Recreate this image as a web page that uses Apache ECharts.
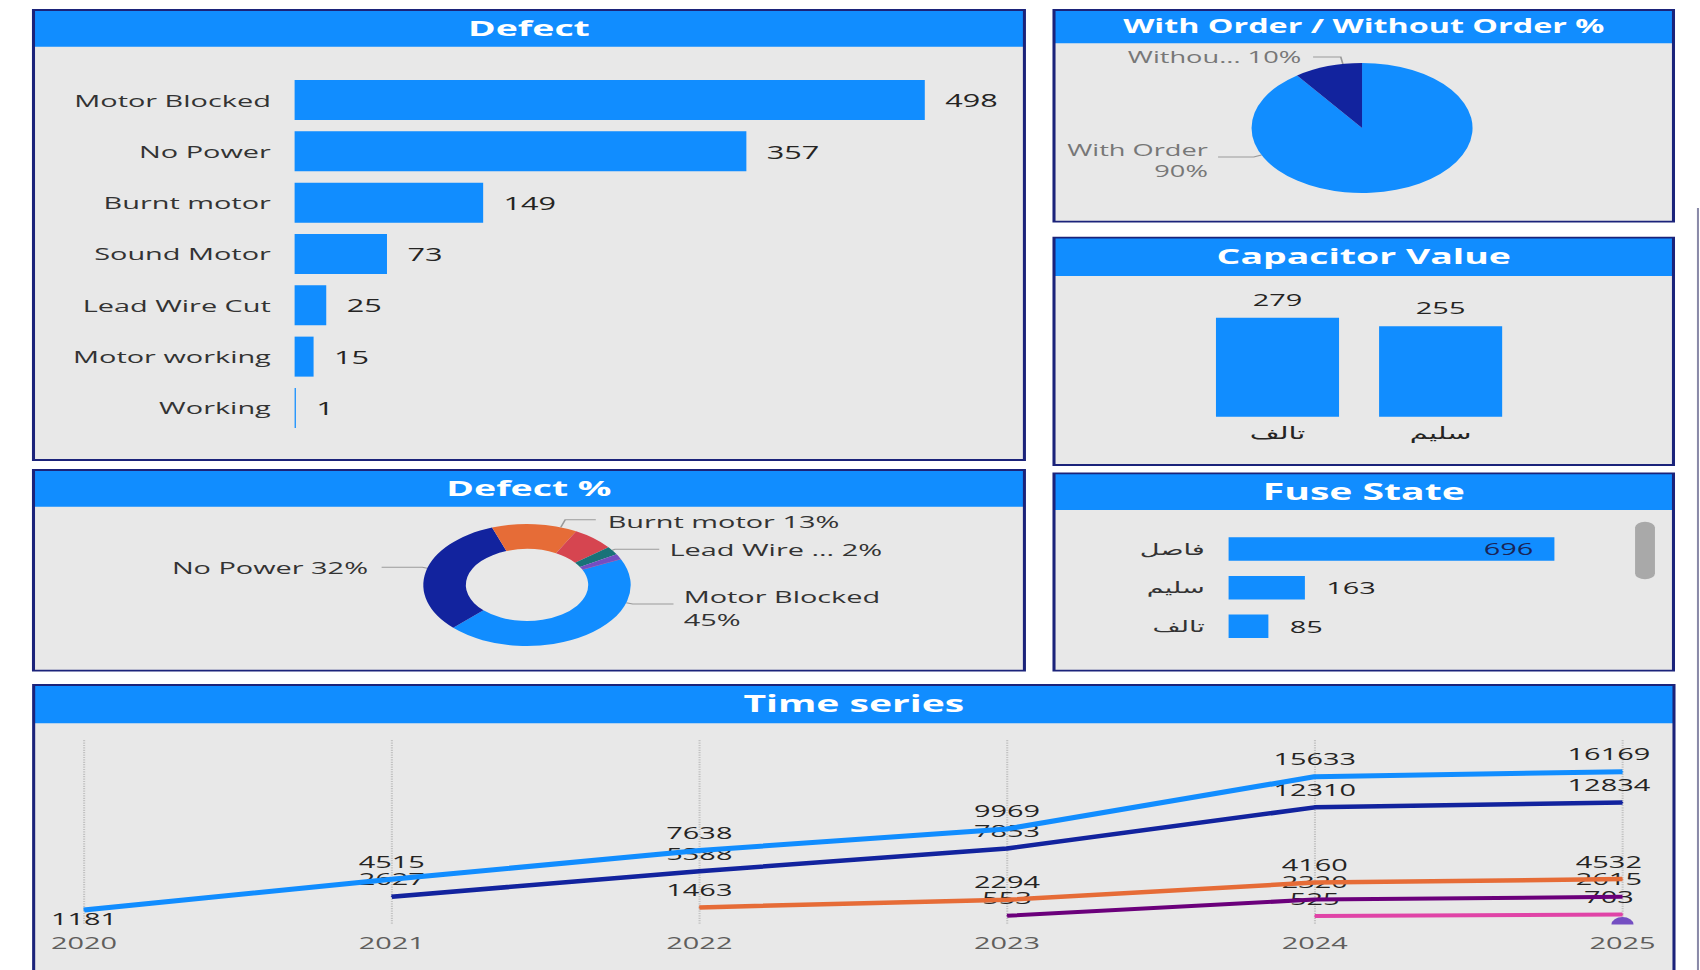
<!DOCTYPE html>
<html>
<head>
<meta charset="utf-8">
<script src="https://cdn.jsdelivr.net/npm/echarts@6/dist/echarts.min.js"></script>
<style>
  html, body { margin: 0; padding: 0; background: #ffffff; overflow: hidden; }
  #main { width: 1000px; height: 970px; transform: scaleX(1.7); transform-origin: 0 0; }
</style>
</head>
<body>
<div id="main"></div>
<script>
// ---------------- data ----------------
const defectCategories = ['Motor Blocked', 'No Power', 'Burnt motor', 'Sound Motor', 'Lead Wire Cut', 'Motor working', 'Working'];
const defectValues = [498, 357, 149, 73, 25, 15, 1];
const defectPieLabels = ['Motor Blocked', 'No Power', 'Burnt motor', '', 'Lead Wire ...', '', ''];

const orderCategories = ['With Order', 'Without Order'];
const orderValues = [90, 10];
const orderPieLabels = ['With Order', 'Withou...'];

const capacitorCategories = ['تالف', 'سليم'];
const capacitorValues = [279, 255];

const fuseCategories = ['فاصل', 'سليم', 'تالف'];
const fuseValues = [696, 163, 85];

const years = ['2020', '2021', '2022', '2023', '2024', '2025'];
const seriesLightBlue = [1181, 4515, 7638, 9969, 15633, 16169];
const seriesNavy = [null, 2627, 5388, 7853, 12310, 12834];
const seriesOrange = [null, null, 1463, 2294, 4160, 4532];
const seriesPurple = [null, null, null, 553, 2320, 2615];
const seriesPink = [null, null, null, null, 525, 703];
const seriesViolet = [null, null, null, null, null, 10];

// ---------------- styling / layout ----------------
const BLUE = '#118DFF';
const NAVY_BORDER = '#1b237a';
const PANEL_BG = '#e8e8e8';
const FONT = '"Open Sans", "Noto Sans", sans-serif';
const AR_FONT = '"DejaVu Sans", "Noto Sans", sans-serif';

const panels = [
  { x: 19.7, y: 10, w: 582.9, h: 450, hh: 36.7, title: 'Defect', fs: 22 },
  { x: 620, y: 10, w: 364.4, h: 211.7, hh: 33.3, title: 'With Order / Without Order %', fs: 19 },
  { x: 620, y: 237.7, w: 364.4, h: 227.3, hh: 38.3, title: 'Capacitor Value', fs: 22 },
  { x: 19.7, y: 470, w: 582.9, h: 200.7, hh: 36.7, title: 'Defect %', fs: 22 },
  { x: 620, y: 473.3, w: 364.4, h: 197.4, hh: 36.7, title: 'Fuse State', fs: 23 },
  { x: 19.8, y: 685, w: 964.9, h: 320, hh: 38.3, title: 'Time series', fs: 23 }
];

const graphics = [];
panels.forEach(p => {
  graphics.push({ type: 'rect', z: 0, shape: { x: p.x, y: p.y, width: p.w, height: p.h }, style: { fill: PANEL_BG } });
  graphics.push({ type: 'rect', z: 0, shape: { x: p.x, y: p.y, width: p.w, height: p.hh }, style: { fill: BLUE } });
  graphics.push({ type: 'rect', z: 1, shape: { x: p.x, y: p.y, width: p.w, height: p.h }, style: { fill: 'none', stroke: NAVY_BORDER, lineWidth: 1.8 } });
  graphics.push({
    type: 'text', z: 2, x: p.x + p.w / 2, y: p.y + p.hh / 2 - 1,
    style: { text: p.title, fill: '#ffffff', font: 'bold ' + p.fs + 'px ' + FONT, textAlign: 'center', textVerticalAlign: 'middle' }
  });
});
// scrollbar of Fuse State panel
graphics.push({ type: 'rect', z: 2, shape: { x: 961.8, y: 521.7, width: 11.7, height: 57.6, r: 6 }, style: { fill: '#a9a9a9' } });
// edge of a neighbouring panel, cut off at the right
graphics.push({ type: 'line', z: 2, shape: { x1: 998.8, y1: 208, x2: 998.8, y2: 970 }, style: { stroke: '#8a8aa8', lineWidth: 1.2 } });

// pie label guides (angle: clockwise from 12 o'clock)
const DEG = Math.PI / 180;
function pieLabelPlacer(cx, cy, r, guides) {
  return function (params) {
    const g = guides[params.dataIndex];
    if (!g) return {};
    const a = g.angle * DEG;
    const ax = cx + r * Math.sin(a), ay = cy - r * Math.cos(a);
    const bx = ax + g.len1 * Math.sin(a), by = ay - g.len1 * Math.cos(a);
    const ex = bx + g.side * g.len2;
    return {
      x: ex + g.side * g.gap,
      y: by + (g.dy || 0),
      align: g.side > 0 ? 'left' : 'right',
      verticalAlign: 'middle',
      labelLinePoints: [[ax, ay], [bx, by], [ex, by]]
    };
  };
}

const donut = { cx: 310, cy: 585, r0: 36, r: 61 };
const donutGuides = [
  { angle: 107, len1: 4, len2: 24, gap: 6, side: 1, dy: 3.6, sep: '\n' },
  { angle: 286, len1: 3, len2: 24, gap: 8, side: -1, sep: ' ' },
  { angle: 19, len1: 8, len2: 18, gap: 7, side: 1, dy: 1.3, sep: ' ' },
  null,
  { angle: 55.3, len1: 2, len2: 26, gap: 6, side: 1, sep: ' ' },
  null,
  null
];
const donutColors = ['#118DFF', '#12239E', '#E66C37', '#D64550', '#197278', '#744EC2', '#6B007B'];

const orderPie = { cx: 801.2, cy: 128, r: 65 };
const orderGuides = [
  { angle: 245.5, len1: 5, len2: 21, gap: 6, side: -1, dy: 3, sep: '\n' },
  { angle: 350, len1: 7, len2: 16.3, gap: 7, side: -1, sep: ' ' }
];
const orderColors = ['#118DFF', '#12239E'];

// line series config
const lineDefs = [
  { name: 'Series 1', data: seriesLightBlue, color: '#118DFF', width: 5, z: 8 },
  { name: 'Series 2', data: seriesNavy, color: '#12239E', width: 4.5, z: 7 },
  { name: 'Series 3', data: seriesOrange, color: '#E66C37', width: 4.5, z: 6 },
  { name: 'Series 4', data: seriesPurple, color: '#6B007B', width: 4, z: 5 },
  { name: 'Series 5', data: seriesPink, color: '#E044A7', width: 4, z: 4 }
];

const lineSeries = lineDefs.map((d, si) => ({
  type: 'line', name: d.name, xAxisIndex: 3, yAxisIndex: 3, z: d.z,
  symbol: 'circle', symbolSize: 1, showSymbol: true,
  lineStyle: { color: d.color, width: d.width },
  itemStyle: { color: d.color },
  label: { show: true, position: 'top', distance: 9, fontSize: 17, color: '#252423', fontFamily: FONT },
  data: d.data.map((v, i) => {
    if (v == null) return '-';
    if (si === 0 && i === 0) return { value: v, label: { position: 'bottom', distance: 0 } };
    if (i === d.data.length - 1) return { value: v, label: { offset: [-8, 0] } };
    return v;
  })
}));

lineSeries.push({
  type: 'line', name: 'Series 6', xAxisIndex: 3, yAxisIndex: 3, z: 9,
  symbol: 'path://M0,10 A10,10 0 0 1 20,10 Z', symbolSize: [13, 7.5], showSymbol: true,
  lineStyle: { color: '#744EC2', width: 3 },
  itemStyle: { color: '#744EC2' },
  label: { show: false },
  data: seriesViolet.map(v => v == null ? '-' : v)
});

const option = {
  animation: false,
  textStyle: { fontFamily: FONT },
  graphic: { elements: graphics },
  grid: [
    { left: 173.3, top: 74.4, width: 409.4, height: 359.2 },
    { left: 703.5, top: 310.3, width: 191.9, height: 106.4 },
    { left: 722.7, top: 529.7, width: 220.3, height: 116 },
    { left: 49.4, top: 740.1, width: 905, height: 184.5 }
  ],
  xAxis: [
    { gridIndex: 0, type: 'value', min: 0, max: 550, show: false },
    {
      gridIndex: 1, type: 'category', data: capacitorCategories,
      axisLine: { show: false }, axisTick: { show: false },
      axisLabel: { margin: 8, fontSize: 17, color: '#252423', fontFamily: AR_FONT }
    },
    { gridIndex: 2, type: 'value', min: 0, max: 800, show: false },
    {
      gridIndex: 3, type: 'category', data: years, boundaryGap: false,
      axisLine: { show: false, onZero: false }, axisTick: { show: false },
      axisLabel: { margin: 9, fontSize: 17, color: '#605E5C', fontFamily: FONT },
      splitLine: { show: true, lineStyle: { type: 'dotted', color: '#c2c2c2', width: 1.2 } }
    }
  ],
  yAxis: [
    {
      gridIndex: 0, type: 'category', data: defectCategories, inverse: true,
      axisLine: { show: false }, axisTick: { show: false },
      axisLabel: { margin: 14, fontSize: 17, color: '#333333', fontFamily: FONT }
    },
    { gridIndex: 1, type: 'value', min: 0, max: 300, show: false },
    {
      gridIndex: 2, type: 'category', data: fuseCategories, inverse: true,
      axisLine: { show: false }, axisTick: { show: false },
      axisLabel: { margin: 14, fontSize: 16, color: '#333333', fontFamily: AR_FONT }
    },
    { gridIndex: 3, type: 'value', min: -400, max: 19600, show: false }
  ],
  series: [
    {
      type: 'bar', name: 'Defect', xAxisIndex: 0, yAxisIndex: 0,
      barWidth: 40, itemStyle: { color: BLUE },
      label: { show: true, position: 'right', distance: 12, fontSize: 18, color: '#252423' },
      data: defectValues
    },
    {
      type: 'bar', name: 'Capacitor Value', xAxisIndex: 1, yAxisIndex: 1,
      barWidth: 72.4, itemStyle: { color: BLUE },
      label: { show: true, position: 'top', distance: 10, fontSize: 17, color: '#252423' },
      data: capacitorValues
    },
    {
      type: 'bar', name: 'Fuse State', xAxisIndex: 2, yAxisIndex: 2,
      barWidth: 23.5, itemStyle: { color: BLUE },
      label: { show: true, position: 'right', distance: 12.5, fontSize: 17, color: '#252423' },
      data: fuseValues.map((v, i) => i === 0
        ? { value: v, label: { position: 'insideRight', distance: 12.4, color: '#1a2456' } }
        : v)
    },
    {
      type: 'pie', name: 'Defect %',
      center: [donut.cx, donut.cy], radius: [donut.r0, donut.r],
      startAngle: 25, clockwise: true, avoidLabelOverlap: false,
      itemStyle: { borderWidth: 0 },
      label: {
        show: true, position: 'outside', fontSize: 17, color: '#333333', lineHeight: 23,
        formatter: p => {
          const g = donutGuides[p.dataIndex];
          return defectPieLabels[p.dataIndex] + (g ? g.sep : ' ') + Math.round(p.percent) + '%';
        }
      },
      labelLine: { show: true, lineStyle: { color: '#9a9a9a', width: 1 } },
      labelLayout: pieLabelPlacer(donut.cx, donut.cy, donut.r, donutGuides),
      data: defectCategories.map((c, i) => ({
        name: c, value: defectValues[i],
        itemStyle: { color: donutColors[i] },
        label: { show: !!donutGuides[i] },
        labelLine: { show: !!donutGuides[i] }
      }))
    },
    {
      type: 'pie', name: 'With Order / Without Order %',
      center: [orderPie.cx, orderPie.cy], radius: orderPie.r,
      startAngle: 90, clockwise: true, avoidLabelOverlap: false,
      itemStyle: { borderWidth: 0 },
      label: {
        show: true, position: 'outside', fontSize: 16, color: '#777777', lineHeight: 21,
        formatter: p => orderPieLabels[p.dataIndex] + orderGuides[p.dataIndex].sep + Math.round(p.percent) + '%'
      },
      labelLine: { show: true, lineStyle: { color: '#9a9a9a', width: 1 } },
      labelLayout: pieLabelPlacer(orderPie.cx, orderPie.cy, orderPie.r, orderGuides),
      data: orderCategories.map((c, i) => ({ name: c, value: orderValues[i], itemStyle: { color: orderColors[i] } }))
    }
  ].concat(lineSeries)
};

const chart = echarts.init(document.getElementById('main'), null, { renderer: 'svg' });
chart.setOption(option);
</script>
</body>
</html>
